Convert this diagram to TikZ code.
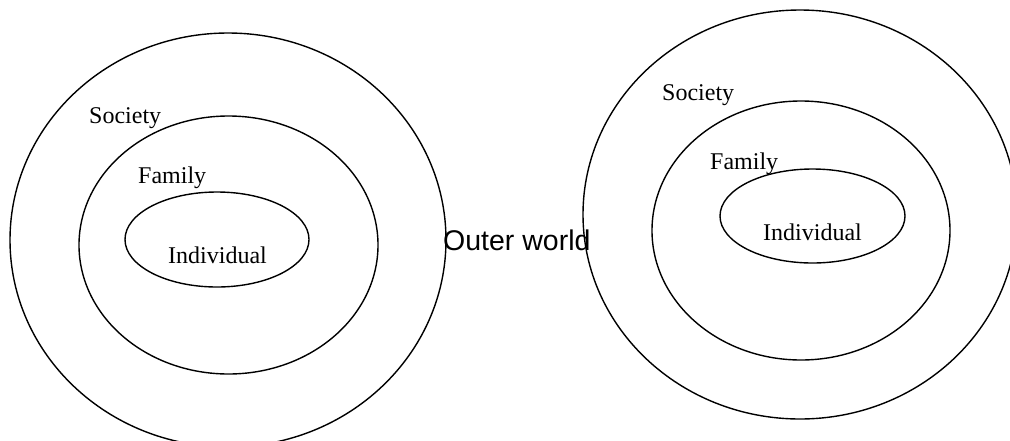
\documentclass[tikz,border=0pt]{standalone}
\usepackage{fontspec}
\setmainfont{Liberation Serif}
\newfontfamily\outerfont{Liberation Sans}
\usetikzlibrary{shapes.geometric}
\tikzset{
  ring/.style={draw, ellipse, line width=1.4pt, inner sep=0pt, outer sep=0pt},
  lbl/.style={anchor=base west, inner sep=0pt, font=\fontsize{24}{28}\selectfont},
  world/.style={anchor=base west, inner sep=0pt, font=\outerfont\fontsize{28.5}{32}\selectfont}
}
\begin{document}
\begin{tikzpicture}[x=1pt,y=-1pt]
\useasboundingbox (0,0) rectangle (1010,440);
\clip (0,0) rectangle (1010,440);
\fill[white] (0,0) rectangle (1010,440);
% left group
\node[ring, minimum width=436pt, minimum height=414pt] (lsoc) at (228,240) {};
\node[ring, minimum width=299pt, minimum height=258pt] (lfam) at (228.5,245) {};
\node[ring, minimum width=184pt, minimum height=95pt] (lind) at (217,239.5) {};
\node[lbl] (lsoct) at (89,123) {Society};
\node[lbl] (lfamt) at (138,183) {Family};
\node[lbl] (lindt) at (168,263) {Individual};
% right group
\node[ring, minimum width=434pt, minimum height=409pt] (rsoc) at (800,214.5) {};
\node[ring, minimum width=298pt, minimum height=259pt] (rfam) at (801,230.5) {};
\node[ring, minimum width=185pt, minimum height=94pt] (rind) at (812.5,216) {};
\node[lbl] (rsoct) at (662,100) {Society};
\node[lbl] (rfamt) at (710,169) {Family};
\node[lbl] (rindt) at (763,240) {Individual};
% outer world
\node[world] (ow) at (443,250) {Outer world};
\end{tikzpicture}
\end{document}
